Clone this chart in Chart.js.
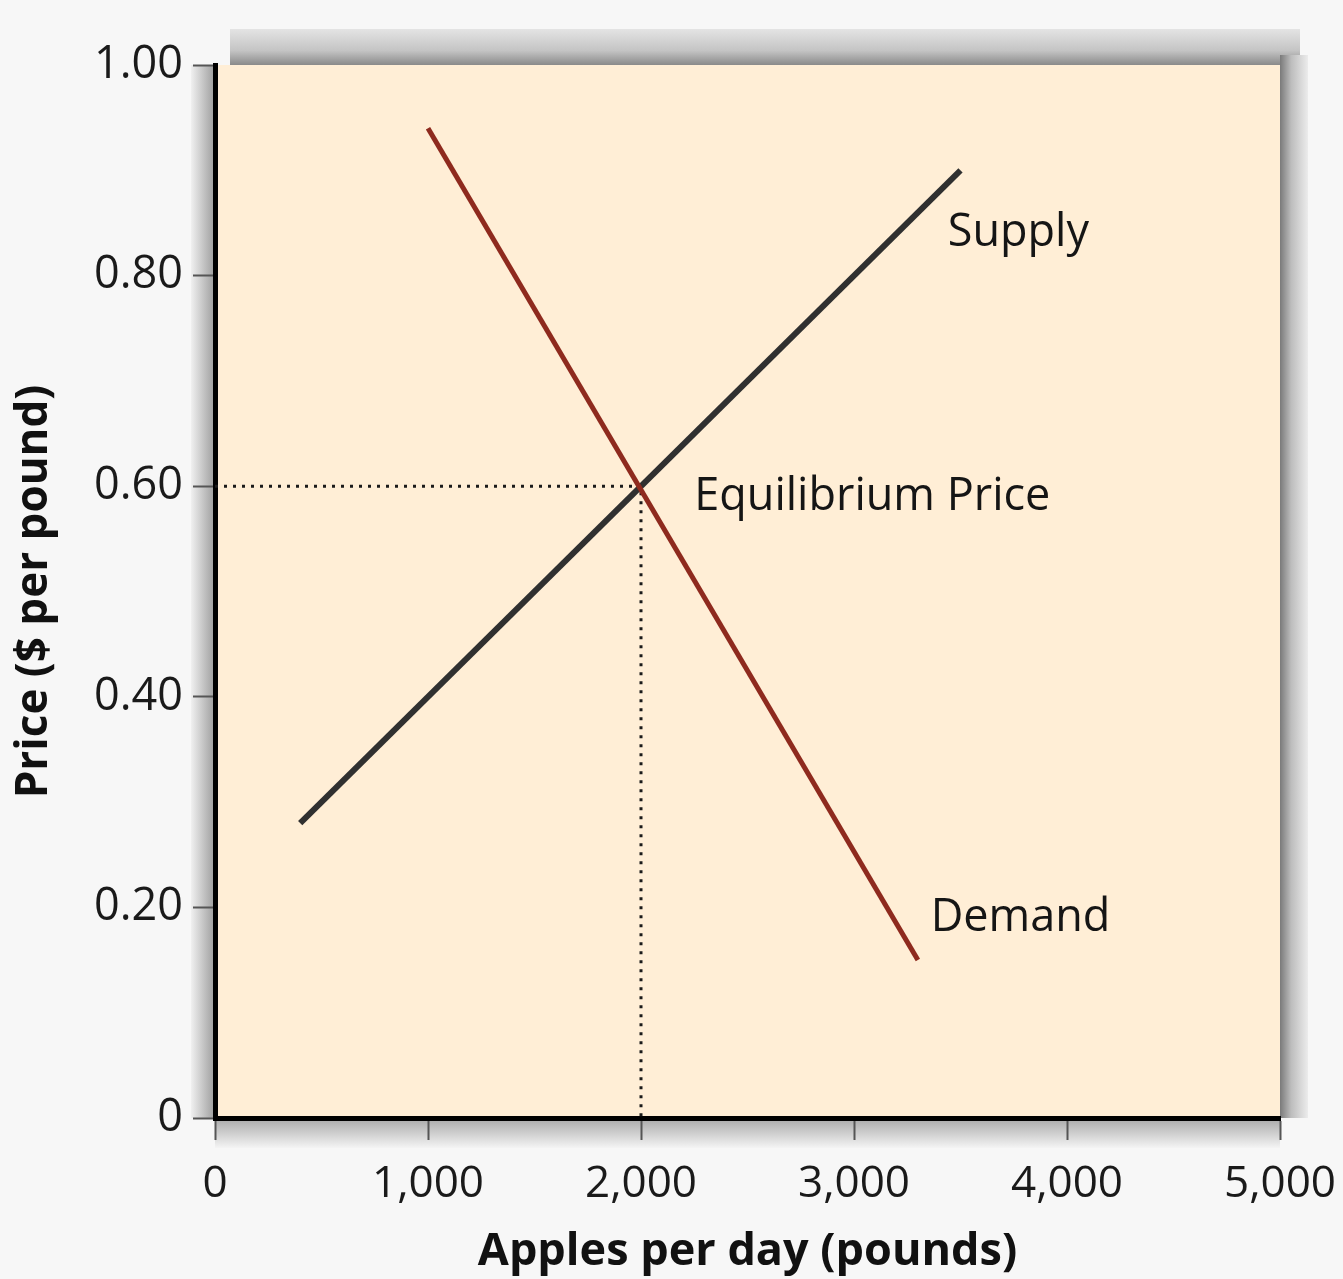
<!DOCTYPE html>
<html>
<head>
<meta charset="utf-8">
<script src="https://cdn.jsdelivr.net/npm/chart.js@4.4.1/dist/chart.umd.min.js"></script>
<style>
  html, body { margin: 0; padding: 0; background: #f7f7f7; }
  #wrap { width: 1343px; height: 1279px; }
</style>
</head>
<body>
<div id="wrap"><canvas id="chart" width="1343" height="1279"></canvas></div>
<script>
// supply and demand lines (quantity in pounds, price in $)
const supplyX = [400, 3500];
const supplyY = [0.28, 0.90];
const demandX = [1000, 3300];
const demandY = [0.94, 0.15];
const eqX = [0, 2000, 2000];
const eqY = [0.60, 0.60, 0];

const xTicks = [0, 1000, 2000, 3000, 4000, 5000];
const yTicks = [0, 0.2, 0.4, 0.6, 0.8, 1.0];

// curve labels
const labelText = ["Supply", "Equilibrium Price", "Demand"];
const labelX = [3440, 2250, 3360];
const labelY = [0.84, 0.59, 0.19];

function pts(xs, ys) {
    return xs.map((x, i) => ({ x: x, y: ys[i] }));
}

// background of plot area with grey frame shadow
const plotBg = {
    id: "plotBg",
    beforeDraw(chart) {
        const { ctx, chartArea: a } = chart;
        ctx.save();
        // shadow band top
        let g = ctx.createLinearGradient(0, a.top - 36, 0, a.top);
        g.addColorStop(0, "#e4e4e4");
        g.addColorStop(0.6, "#c4c4c4");
        g.addColorStop(1, "#8a8a8a");
        ctx.fillStyle = g;
        ctx.fillRect(a.left + 15, a.top - 36, a.right - a.left + 5, 36);
        // shadow band right
        g = ctx.createLinearGradient(a.right, 0, a.right + 28, 0);
        g.addColorStop(0, "#7a7a7a");
        g.addColorStop(0.4, "#bdbdbd");
        g.addColorStop(1, "#ececec");
        ctx.fillStyle = g;
        ctx.fillRect(a.right, a.top - 10, 28, a.bottom - a.top + 10);
        // shadow band bottom (under axis)
        g = ctx.createLinearGradient(0, a.bottom, 0, a.bottom + 30);
        g.addColorStop(0, "#a8a8a8");
        g.addColorStop(1, "#f4f4f4");
        ctx.fillStyle = g;
        ctx.fillRect(a.left, a.bottom, a.right - a.left, 30);
        // shadow band left
        g = ctx.createLinearGradient(a.left - 24, 0, a.left, 0);
        g.addColorStop(0, "#f0f0f0");
        g.addColorStop(1, "#9c9c9c");
        ctx.fillStyle = g;
        ctx.fillRect(a.left - 24, a.top, 24, a.bottom - a.top);
        ctx.fillStyle = "#ffeed6";
        ctx.fillRect(a.left, a.top, a.right - a.left, a.bottom - a.top);
        ctx.restore();
    }
};

const curveLabels = {
    id: "curveLabels",
    afterDatasetsDraw(chart) {
        const { ctx, scales } = chart;
        ctx.save();
        ctx.font = "45px 'Open Sans'";
        ctx.fillStyle = "#151515";
        ctx.textAlign = "left";
        ctx.textBaseline = "middle";
        labelText.forEach((t, i) => {
            ctx.fillText(t, scales.x.getPixelForValue(labelX[i]), scales.y.getPixelForValue(labelY[i]));
        });
        ctx.restore();
    }
};

new Chart(document.getElementById("chart"), {
    type: "scatter",
    data: {
        datasets: [
            {
                label: "Equilibrium",
                data: pts(eqX, eqY),
                showLine: true,
                borderColor: "#1a1a1a",
                borderWidth: 3,
                borderDash: [3, 6],
                pointRadius: 0,
                order: 3
            },
            {
                label: "Supply",
                data: pts(supplyX, supplyY),
                showLine: true,
                borderColor: "#303030",
                borderWidth: 6,
                pointRadius: 0,
                order: 2
            },
            {
                label: "Demand",
                data: pts(demandX, demandY),
                showLine: true,
                borderColor: "#8e2a1e",
                borderWidth: 5,
                pointRadius: 0,
                order: 1
            }
        ]
    },
    options: {
        responsive: false,
        animation: false,
        layout: { padding: { left: 0, right: 63, top: 65, bottom: 0 } },
        plugins: {
            legend: { display: false },
            tooltip: { enabled: false }
        },
        scales: {
            x: {
                type: "linear",
                min: 0,
                max: 5000,
                afterBuildTicks: (s) => { s.ticks = xTicks.map(v => ({ value: v })); },
                afterFit: (s) => { s.height = 161; s.paddingLeft = 0; s.paddingRight = 0; },
                border: { display: true, color: "#000", width: 5 },
                grid: { display: true, drawOnChartArea: false, drawTicks: true, tickLength: 22, tickColor: "#555", tickWidth: 2 },
                ticks: {
                    padding: 18,
                    color: "#1a1a1a",
                    font: { family: "'Open Sans'", size: 44 },
                    callback: (v) => v.toLocaleString("en-US")
                },
                title: {
                    display: true,
                    text: "Apples per day (pounds)",
                    color: "#111",
                    font: { family: "'Open Sans'", size: 45, weight: "bold" },
                    padding: { top: 0, bottom: 0 }
                }
            },
            y: {
                type: "linear",
                min: 0,
                max: 1,
                afterBuildTicks: (s) => { s.ticks = yTicks.map(v => ({ value: v })); },
                afterFit: (s) => { s.width = 215; s.paddingTop = 0; s.paddingBottom = 0; },
                border: { display: true, color: "#000", width: 5 },
                grid: { display: true, drawOnChartArea: false, drawTicks: true, tickLength: 22, tickColor: "#555", tickWidth: 2 },
                ticks: {
                    padding: 10,
                    color: "#1a1a1a",
                    font: { family: "'Open Sans'", size: 45 },
                    callback: (v) => v === 0 ? "0" : v.toFixed(2)
                },
                title: {
                    display: true,
                    text: "Price ($ per pound)",
                    color: "#111",
                    font: { family: "'Open Sans'", size: 44, weight: "bold" },
                    padding: { top: 8, bottom: 0 }
                }
            }
        }
    },
    plugins: [plotBg, curveLabels]
});
</script>
</body>
</html>
